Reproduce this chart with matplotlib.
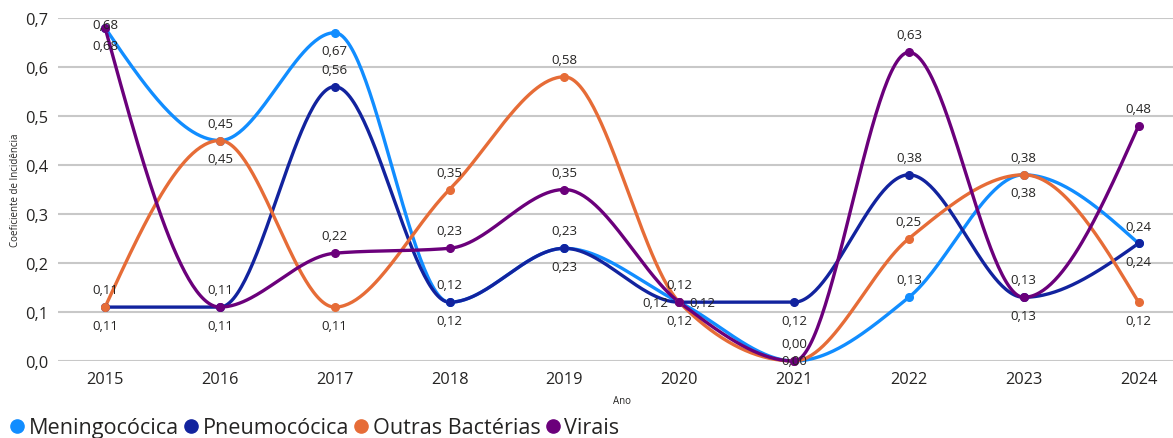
import numpy as np
import matplotlib
matplotlib.use("Agg")
import matplotlib.pyplot as plt
from matplotlib.lines import Line2D

plt.rcParams['font.family'] = ['Open Sans', 'DejaVu Sans']

years = [2015, 2016, 2017, 2018, 2019, 2020, 2021, 2022, 2023, 2024]
series_names = ["Meningocócica", "Pneumocócica", "Outras Bactérias", "Virais"]
meningo = [0.68, 0.45, 0.67, 0.12, 0.23, 0.12, 0.00, 0.13, 0.38, 0.24]
pneumo = [0.11, 0.11, 0.56, 0.12, 0.23, 0.12, 0.12, 0.38, 0.13, 0.24]
outras = [0.11, 0.45, 0.11, 0.35, 0.58, 0.12, 0.00, 0.25, 0.38, 0.12]
virais = [0.68, 0.11, 0.22, 0.23, 0.35, 0.12, 0.00, 0.63, 0.13, 0.48]
colors = ["#118DFF", "#12239E", "#E66C37", "#6B007B"]

# label placement codes: a=above, b=below, l=left, r=right, c=centre, t=top-clamped, n=none
label_pos = [
    ['b', 'a', 'b', 'b', 'b', 'b', 'c', 'a', 'b', 'a'],
    ['b', 'b', 'a', 'a', 'a', 'r', 'b', 'a', 'b', 'b'],
    ['a', 'b', 'b', 'a', 'a', 'l', 'a', 'a', 'a', 'b'],
    ['t', 'a', 'a', 'a', 'a', 'a', 'n', 'a', 'a', 'a'],
]
offsets = {'a': (0, 12.5), 'b': (0, -13), 'l': (-17, 0), 'r': (17, 0),
           'c': (0, 0), 't': (0, 2.5)}


def monotone_curve(x, y, n=60):
    x = np.asarray(x, float)
    y = np.asarray(y, float)
    m = len(x)
    sgn = lambda v: -1.0 if v < 0 else 1.0
    t = np.zeros(m)
    for i in range(1, m - 1):
        h0 = x[i] - x[i - 1]
        h1 = x[i + 1] - x[i]
        s0 = (y[i] - y[i - 1]) / h0
        s1 = (y[i + 1] - y[i]) / h1
        p = (s0 * h1 + s1 * h0) / (h0 + h1)
        t[i] = (sgn(s0) + sgn(s1)) * min(abs(s0), abs(s1), 0.5 * abs(p))
    h = x[1] - x[0]
    t[0] = (3 * (y[1] - y[0]) / h - t[1]) / 2
    h = x[-1] - x[-2]
    t[-1] = (3 * (y[-1] - y[-2]) / h - t[-2]) / 2
    xs, ys = [], []
    for i in range(m - 1):
        dx = (x[i + 1] - x[i]) / 3
        p0 = (x[i], y[i])
        p1 = (x[i] + dx, y[i] + dx * t[i])
        p2 = (x[i + 1] - dx, y[i + 1] - dx * t[i + 1])
        p3 = (x[i + 1], y[i + 1])
        s = np.linspace(0, 1, n)
        b0 = (1 - s) ** 3
        b1 = 3 * (1 - s) ** 2 * s
        b2 = 3 * (1 - s) * s ** 2
        b3 = s ** 3
        xs.append(b0 * p0[0] + b1 * p1[0] + b2 * p2[0] + b3 * p3[0])
        ys.append(b0 * p0[1] + b1 * p1[1] + b2 * p2[1] + b3 * p3[1])
    return np.concatenate(xs), np.concatenate(ys)


fig = plt.figure(figsize=(11.73, 4.39), dpi=100)
ax = fig.add_axes([58 / 1173, 1 - 362 / 439, 1 - 58 / 1173, (362 - 19) / 439])

ax.set_xlim(2014.59, 2024.3)
ax.set_ylim(0, 0.7)
yticks = [0.0, 0.1, 0.2, 0.3, 0.4, 0.5, 0.6, 0.7]
ax.set_yticks(yticks)
ax.set_yticklabels([f"{v:.1f}".replace('.', ',') for v in yticks])
ax.set_xticks(years)
ax.set_xticklabels([str(y) for y in years])
ax.tick_params(axis='both', length=0, labelsize=11.8, colors='#252423')
ax.tick_params(axis='y', pad=7)
ax.tick_params(axis='x', pad=7)
for s in ax.spines.values():
    s.set_visible(False)
ax.grid(axis='y', color='#C8C8C8', lw=1.5)
ax.set_axisbelow(True)

all_series = [meningo, pneumo, outras, virais]
for vals, col in zip(all_series, colors):
    xs, ys = monotone_curve(years, vals)
    ax.plot(xs, ys, color=col, lw=2.4, solid_capstyle='round', clip_on=False, zorder=3)
    ax.plot(years, vals, 'o', color=col, ms=5.5, clip_on=False, zorder=4)

for vals, codes in zip(all_series, label_pos):
    for x, v, c in zip(years, vals, codes):
        if c == 'n':
            continue
        ax.annotate(f"{v:.2f}".replace('.', ','), (x, v), xytext=offsets[c],
                    textcoords='offset points', ha='center', va='center',
                    fontsize=9.5, color='#252423', zorder=6, annotation_clip=False)

fig.text(16 / 1173, 1 - 190 / 439, "Coeficiente de Incidência", rotation=90,
         ha='center', va='center', fontsize=7, color='#252423')
fig.text(622 / 1173, 1 - 402 / 439, "Ano", ha='center', va='center',
         fontsize=7, color='#252423')

handles = [Line2D([], [], marker='o', ls='', color=c, ms=9.5) for c in colors]
fig.legend(handles, series_names, loc='center left', bbox_to_anchor=(0.006, 1 - 429 / 439),
           ncol=4, frameon=False, fontsize=15.6, handlelength=0.55, handletextpad=0.25,
           columnspacing=0.3, borderaxespad=0, borderpad=0.2, labelcolor='#252423')

fig.savefig("out.png", dpi=100)
